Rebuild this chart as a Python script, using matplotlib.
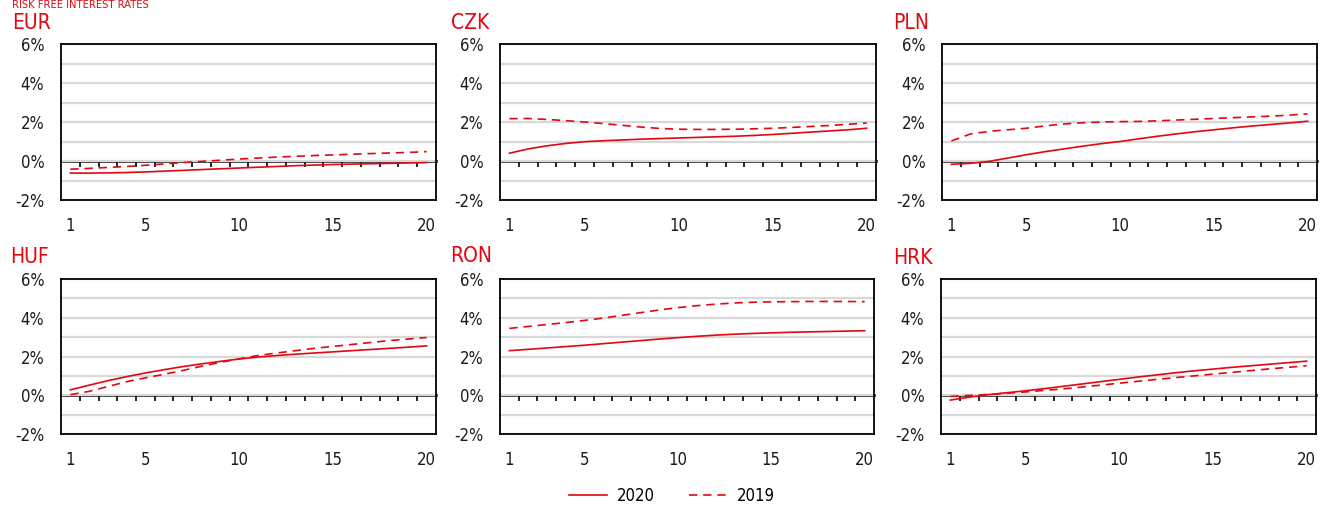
import matplotlib
matplotlib.use('Agg')
import matplotlib.pyplot as plt
import numpy as np

plt.rcParams['font.family'] = ['Liberation Sans Narrow', 'DejaVu Sans']
plt.rcParams['font.stretch'] = 'condensed'

RED = '#e30613'

maturities = list(range(1, 21))
currencies = ['EUR', 'CZK', 'PLN', 'HUF', 'RON', 'HRK']

eur_2020 = [-0.62, -0.62, -0.61, -0.59, -0.56, -0.52, -0.48, -0.44, -0.40, -0.36,
            -0.32, -0.28, -0.24, -0.21, -0.18, -0.16, -0.14, -0.12, -0.10, -0.08]
eur_2019 = [-0.42, -0.38, -0.33, -0.28, -0.22, -0.15, -0.08, -0.02, 0.04, 0.10,
            0.15, 0.20, 0.24, 0.28, 0.31, 0.35, 0.38, 0.41, 0.44, 0.48]
czk_2020 = [0.40, 0.62, 0.78, 0.90, 0.99, 1.04, 1.08, 1.12, 1.15, 1.18,
            1.21, 1.24, 1.27, 1.31, 1.36, 1.42, 1.48, 1.54, 1.60, 1.68]
czk_2019 = [2.17, 2.18, 2.13, 2.07, 2.00, 1.92, 1.83, 1.74, 1.67, 1.63,
            1.62, 1.62, 1.63, 1.65, 1.68, 1.72, 1.77, 1.82, 1.88, 1.95]
pln_2020 = [-0.17, -0.12, -0.02, 0.15, 0.32, 0.48, 0.62, 0.76, 0.89, 1.00,
            1.14, 1.27, 1.39, 1.50, 1.60, 1.70, 1.79, 1.87, 1.95, 2.04]
pln_2019 = [1.03, 1.38, 1.52, 1.60, 1.68, 1.80, 1.90, 1.96, 2.00, 2.02,
            2.03, 2.06, 2.10, 2.14, 2.18, 2.22, 2.26, 2.30, 2.35, 2.42]
huf_2020 = [0.28, 0.52, 0.75, 0.96, 1.15, 1.32, 1.48, 1.62, 1.75, 1.87,
            1.97, 2.05, 2.12, 2.18, 2.24, 2.30, 2.36, 2.42, 2.48, 2.55]
huf_2019 = [0.03, 0.20, 0.45, 0.70, 0.90, 1.08, 1.28, 1.50, 1.70, 1.88,
            2.05, 2.18, 2.30, 2.42, 2.52, 2.62, 2.72, 2.82, 2.90, 2.98]
ron_2020 = [2.30, 2.37, 2.44, 2.51, 2.58, 2.66, 2.74, 2.82, 2.90, 2.97,
            3.04, 3.10, 3.15, 3.19, 3.22, 3.25, 3.27, 3.29, 3.31, 3.33]
ron_2019 = [3.45, 3.55, 3.65, 3.75, 3.86, 3.98, 4.12, 4.26, 4.40, 4.52,
            4.62, 4.70, 4.76, 4.80, 4.82, 4.83, 4.84, 4.84, 4.84, 4.83]
hrk_2020 = [-0.25, -0.10, 0.03, 0.13, 0.23, 0.34, 0.46, 0.58, 0.70, 0.82,
            0.94, 1.05, 1.16, 1.26, 1.35, 1.44, 1.52, 1.60, 1.68, 1.76]
hrk_2019 = [-0.06, -0.01, 0.04, 0.10, 0.17, 0.25, 0.33, 0.42, 0.52, 0.62,
            0.72, 0.82, 0.91, 1.00, 1.09, 1.18, 1.27, 1.36, 1.44, 1.52]

series_2020 = [eur_2020, czk_2020, pln_2020, huf_2020, ron_2020, hrk_2020]
series_2019 = [eur_2019, czk_2019, pln_2019, huf_2019, ron_2019, hrk_2019]

y_ticks = [-2, 0, 2, 4, 6]
y_ticklabels = ['-2%', '0%', '2%', '4%', '6%']
x_ticks = [1, 5, 10, 15, 20]

W, H = 1324, 505
fig = plt.figure(figsize=(W / 100, H / 100), dpi=100)

# panel boxes in pixels: left, top, right, bottom
boxes = [(61, 44, 436, 200), (500, 44, 876, 200), (942, 44, 1317, 200),
         (61, 279, 436, 434), (500, 279, 874, 434), (941, 279, 1316, 434)]
title_pos = [(12, 29), (451, 29), (893, 29), (10, 263), (450, 262), (893, 264)]

fig.text(12 / W, 1 - 0.5 / H, 'RISK FREE INTEREST RATES', color=RED,
         fontsize=8, va='top', ha='left')

ymin, ymax = -2, 6
for i, cur in enumerate(currencies):
    l, t, r, b = boxes[i]
    ax = fig.add_axes([l / W, 1 - b / H, (r - l) / W, (b - t) / H])
    ax.set_xlim(0.5, 20.5)
    ax.set_ylim(ymin, ymax)
    ax.set_yticks(y_ticks)
    ax.set_yticklabels(y_ticklabels)
    ax.set_yticks(np.arange(-1, 6, 2), minor=True)
    ax.set_xticks(x_ticks)
    ax.tick_params(axis='both', which='both', length=0, labelsize=12,
                   pad=12, colors='#1a1a1a')
    ax.grid(axis='y', which='both', color='#d9d9d9', linewidth=1.6, zorder=0)
    ax.set_axisbelow(True)
    for s in ax.spines.values():
        s.set_linewidth(1.3)
        s.set_color('black')

    ax.plot(maturities, series_2020[i], color=RED, lw=1.2, label='2020', zorder=3)
    ax.plot(maturities, series_2019[i], color=RED, lw=1.2, dashes=(5, 3.5),
            label='2019', zorder=3)

    # zero line with category separators
    zero = ax.secondary_xaxis((0 - ymin) / (ymax - ymin))
    zero.set_xticks(np.arange(1.5, 20, 1))
    zero.tick_params(length=4, width=1.2, direction='out', labelbottom=False,
                     color='black')
    zero.spines['bottom'].set_linewidth(1.8)
    zero.spines['bottom'].set_color('black')

    tx, ty = title_pos[i]
    fig.text(tx / W, 1 - ty / H, cur, color=RED, fontsize=15,
             va='baseline', ha='left')

    if i == 0:
        handles, labels = ax.get_legend_handles_labels()

fig.legend(handles, labels, loc='center', bbox_to_anchor=(672 / W, 1 - 496 / H),
           ncol=2, frameon=False, fontsize=12, handlelength=2.3,
           handletextpad=0.6, columnspacing=2.0)

fig.savefig('out.png', dpi=100)
